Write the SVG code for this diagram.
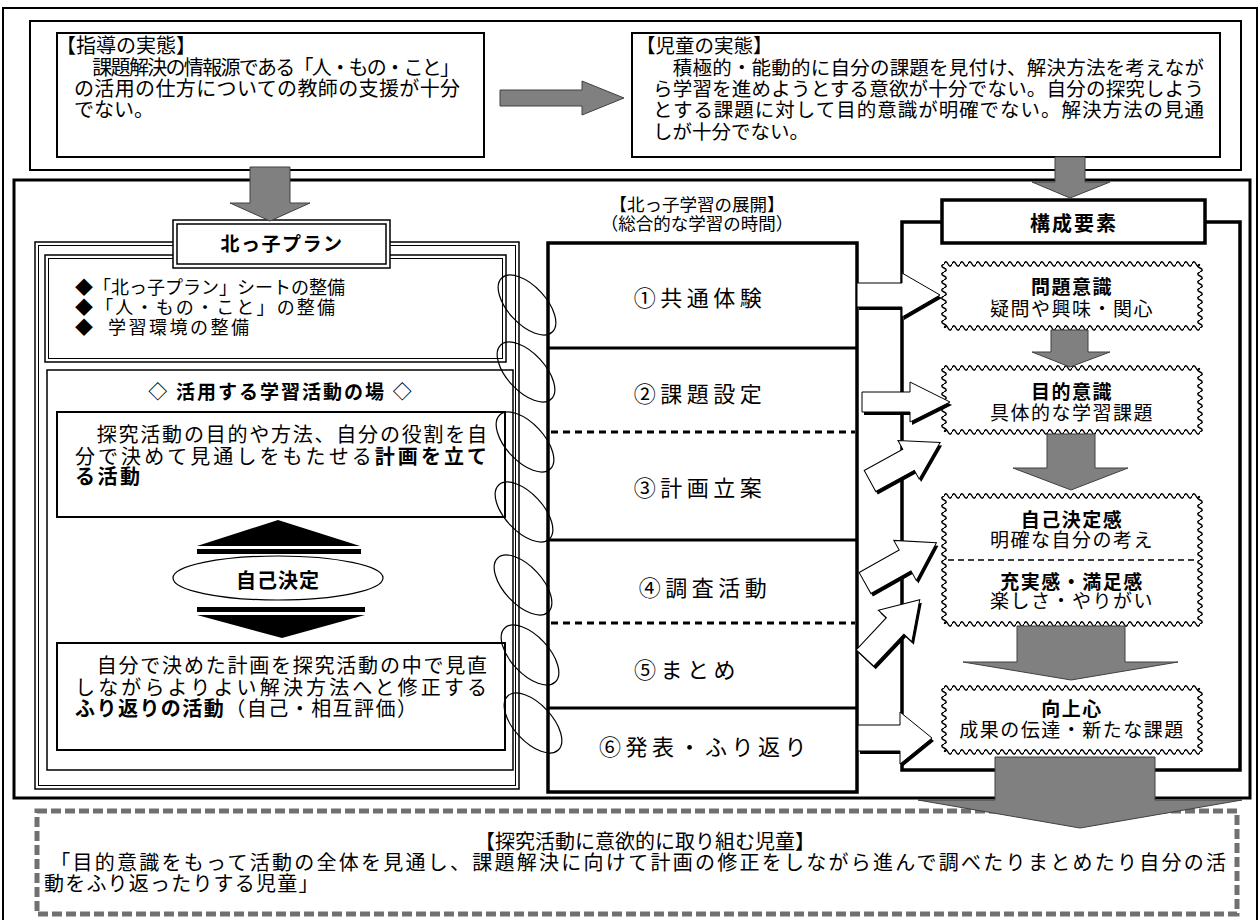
<svg xmlns="http://www.w3.org/2000/svg" width="1260" height="920" viewBox="0 0 1260 920">
<defs>
<style>
text{font-family:"Liberation Serif","Noto Sans CJK JP","Noto Sans CJK SC",serif;fill:#000}
.b{font-weight:bold}
.fr{fill:none;stroke:#000}
.wb{fill:#fff;stroke:#000}
.gray{fill:#808080;stroke:#404040;stroke-width:1}
.wa{fill:#fff;stroke:#000;stroke-width:1}
.ws{fill:#000}
.ell{fill:none;stroke:#000;stroke-width:1.2}
.lbl{font-size:22px;letter-spacing:4.5px}
.hd{font-size:19px;font-weight:bold;letter-spacing:1.5px}
.sb{font-size:19px;letter-spacing:1.5px}
</style>
<pattern id="wh" x="0" y="-4" width="8" height="8" patternUnits="userSpaceOnUse"><path d="M0,4 Q2,-0.5 4,4 T8,4" fill="none" stroke="#000" stroke-width="1.4"/></pattern>
<pattern id="wv" x="-4" y="0" width="8" height="8" patternUnits="userSpaceOnUse"><path d="M4,0 Q-0.5,2 4,4 T4,8" fill="none" stroke="#000" stroke-width="1.4"/></pattern>
</defs>
<rect width="1260" height="920" fill="#fff"/>

<g id="containers">
<rect class="fr" x="3" y="8" width="1254" height="930" stroke-width="2"/>
<rect class="fr" x="30" y="21" width="1211" height="149" stroke-width="2"/>
<rect class="fr" x="14" y="180" width="1236" height="618" stroke-width="3"/>
</g>

<g id="shidou">
<rect class="wb" x="57" y="33" width="427" height="124" stroke-width="2"/>
<text x="56" y="53" font-size="20">【指導の実態】</text>
<text x="74" y="75" font-size="20" textLength="386" lengthAdjust="spacing">　課題解決の情報源である「人・もの・こと」</text>
<text x="74" y="96" font-size="20" textLength="386" lengthAdjust="spacing">の活用の仕方についての教師の支援が十分</text>
<text x="74" y="117" font-size="20">でない。</text>
</g>

<g id="jidou">
<rect class="wb" x="632" y="33" width="588" height="124" stroke-width="2"/>
<text x="636" y="53" font-size="19.5">【児童の実態】</text>
<text x="653" y="75" font-size="19.5" textLength="551" lengthAdjust="spacing">　積極的・能動的に自分の課題を見付け、解決方法を考えなが</text>
<text x="653" y="96" font-size="19.5" textLength="551" lengthAdjust="spacing">ら学習を進めようとする意欲が十分でない。自分の探究しよう</text>
<text x="653" y="117" font-size="19.5" textLength="551" lengthAdjust="spacing">とする課題に対して目的意識が明確でない。解決方法の見通</text>
<text x="653" y="139" font-size="19.5">しが十分でない。</text>
</g>

<g id="kitakko-plan">
<rect x="35" y="242" width="484" height="547" fill="#fff" stroke="#000" stroke-width="1.5"/>
<rect class="fr" x="38.5" y="245.5" width="477" height="540" stroke-width="1"/>
<rect class="wb" x="45" y="255" width="461" height="107" stroke-width="1.5"/>
<rect class="fr" x="48.5" y="258.5" width="454" height="100" stroke-width="1"/>
<text x="75" y="294" font-size="18" textLength="270" lengthAdjust="spacing">◆「北っ子プラン」シートの整備</text>
<text x="75" y="314" font-size="18" textLength="260" lengthAdjust="spacing">◆「人・もの・こと」の整備</text>
<text x="75" y="334" font-size="18">◆<tspan x="108" letter-spacing="2.5">学習環境の整備</tspan></text>
<rect class="wb" x="47" y="370" width="466" height="400" stroke-width="1.5"/>
<text x="281" y="399" text-anchor="middle" class="b" font-size="19" letter-spacing="2">◇ 活用する学習活動の場 ◇</text>
<rect class="wb" x="57" y="412" width="448" height="105" stroke-width="2"/>
<text x="75" y="442" font-size="20" textLength="412" lengthAdjust="spacing">　探究活動の目的や方法、自分の役割を自</text>
<text x="75" y="464" font-size="20" textLength="412" lengthAdjust="spacing">分で決めて見通しをもたせる<tspan class="b">計画を立て</tspan></text>
<text x="75" y="484" font-size="20" class="b" letter-spacing="2.5">る活動</text>
<polygon points="278,520 360,546 197,546" fill="#000"/>
<rect x="197" y="549" width="164" height="5" fill="#000"/>
<ellipse cx="278" cy="578" rx="105" ry="22" fill="#fff" stroke="#000" stroke-width="1.2"/>
<text x="278" y="588" text-anchor="middle" class="b" font-size="20" letter-spacing="1">自己決定</text>
<rect x="197" y="607" width="168" height="5" fill="#000"/>
<polygon points="197,615 365,615 282,638" fill="#000"/>
<rect class="wb" x="57" y="643" width="448" height="107" stroke-width="2"/>
<text x="75" y="673" font-size="20" textLength="412" lengthAdjust="spacing">　自分で決めた計画を探究活動の中で見直</text>
<text x="75" y="695" font-size="20" textLength="412" lengthAdjust="spacing">しながらよりよい解決方法へと修正する</text>
<text x="75" y="716" font-size="20" textLength="342" lengthAdjust="spacing"><tspan class="b">ふり返りの活動</tspan>（自己・相互評価）</text>
<rect class="wb" x="173" y="220" width="217" height="48" stroke-width="1.5"/>
<rect class="fr" x="177" y="224" width="209" height="40" stroke-width="1.5"/>
<text x="282" y="251" text-anchor="middle" class="b" font-size="19" letter-spacing="1.5">北っ子プラン</text>
</g>

<g id="tenkai">
<text x="697" y="211" text-anchor="middle" font-size="17.5">【北っ子学習の展開】</text>
<text x="697" y="230" text-anchor="middle" font-size="17.5">（総合的な学習の時間）</text>
<rect class="wb" x="548" y="243" width="309" height="549" stroke-width="3.5"/>
<line x1="548" y1="348" x2="857" y2="348" stroke="#000" stroke-width="3"/>
<line x1="551" y1="432" x2="855" y2="432" stroke="#000" stroke-width="3" stroke-dasharray="7 5"/>
<line x1="548" y1="540" x2="857" y2="540" stroke="#000" stroke-width="3"/>
<line x1="551" y1="623" x2="855" y2="623" stroke="#000" stroke-width="3" stroke-dasharray="7 5"/>
<line x1="548" y1="708" x2="857" y2="708" stroke="#000" stroke-width="3"/>
<text x="700" y="306" text-anchor="middle" class="lbl">①共通体験</text>
<text x="700" y="402" text-anchor="middle" class="lbl">②課題設定</text>
<text x="700" y="496" text-anchor="middle" class="lbl">③計画立案</text>
<text x="705" y="596" text-anchor="middle" class="lbl">④調査活動</text>
<text x="634" y="678" class="lbl">⑤まとめ</text>
<text x="705" y="755" text-anchor="middle" class="lbl">⑥発表・ふり返り</text>
</g>

<g id="kousei">
<rect class="fr" x="902" y="222" width="338" height="548" stroke-width="3.5"/>
<rect class="wb" x="942" y="200" width="263" height="43" stroke-width="3.5"/>
<text x="1074" y="231" text-anchor="middle" class="b" font-size="20" letter-spacing="2">構成要素</text>
</g>

<g id="mondai">
<rect x="944" y="264" width="256" height="64" fill="#fff"/>
<rect x="944" y="260" width="256" height="8" fill="url(#wh)"/>
<rect x="944" y="324" width="256" height="8" fill="url(#wh)"/>
<rect x="940" y="264" width="8" height="64" fill="url(#wv)"/>
<rect x="1196" y="264" width="8" height="64" fill="url(#wv)"/>
<text x="1072" y="294" text-anchor="middle" class="hd">問題意識</text>
<text x="1072" y="316" text-anchor="middle" class="sb">疑問や興味・関心</text>
</g>

<g id="mokuteki">
<rect x="944" y="368" width="256" height="64" fill="#fff"/>
<rect x="944" y="364" width="256" height="8" fill="url(#wh)"/>
<rect x="944" y="428" width="256" height="8" fill="url(#wh)"/>
<rect x="940" y="368" width="8" height="64" fill="url(#wv)"/>
<rect x="1196" y="368" width="8" height="64" fill="url(#wv)"/>
<text x="1072" y="399" text-anchor="middle" class="hd">目的意識</text>
<text x="1072" y="420" text-anchor="middle" class="sb">具体的な学習課題</text>
</g>

<g id="jiko">
<rect x="944" y="496" width="256" height="128" fill="#fff"/>
<rect x="944" y="492" width="256" height="8" fill="url(#wh)"/>
<rect x="944" y="620" width="256" height="8" fill="url(#wh)"/>
<rect x="940" y="496" width="8" height="128" fill="url(#wv)"/>
<rect x="1196" y="496" width="8" height="128" fill="url(#wv)"/>
<text x="1072" y="527" text-anchor="middle" class="hd">自己決定感</text>
<text x="1072" y="547" text-anchor="middle" class="sb">明確な自分の考え</text>
<line x1="948" y1="560" x2="1194" y2="560" stroke="#000" stroke-width="1.5" stroke-dasharray="6 4"/>
<text x="1072" y="589" text-anchor="middle" class="hd">充実感・満足感</text>
<text x="1072" y="608" text-anchor="middle" class="sb">楽しさ・やりがい</text>
</g>

<g id="koujou">
<rect x="944" y="688" width="256" height="64" fill="#fff"/>
<rect x="944" y="684" width="256" height="8" fill="url(#wh)"/>
<rect x="944" y="748" width="256" height="8" fill="url(#wh)"/>
<rect x="940" y="688" width="8" height="64" fill="url(#wv)"/>
<rect x="1196" y="688" width="8" height="64" fill="url(#wv)"/>
<text x="1072" y="716" text-anchor="middle" class="hd">向上心</text>
<text x="1072" y="737" text-anchor="middle" class="sb">成果の伝達・新たな課題</text>
</g>

<g id="goal">
<rect x="37" y="811" width="1200" height="103" fill="#fff" stroke="#707070" stroke-width="5" stroke-dasharray="10 4"/>
<text x="645" y="849" text-anchor="middle" font-size="20">【探究活動に意欲的に取り組む児童】</text>
<text x="38" y="870" font-size="20" textLength="1188" lengthAdjust="spacing">　「目的意識をもって活動の全体を見通し、課題解決に向けて計画の修正をしながら進んで調べたりまとめたり自分の活</text>
<text x="44" y="891" font-size="20" letter-spacing="1.2">動をふり返ったりする児童」</text>
</g>

<g id="connectors">
<polygon class="gray" points="500,90 582,90 582,81 624,98 582,115 582,106 500,106"/>
<polygon class="gray" points="250,167 290,167 290,203 310,203 270,221 230,203 250,203"/>
<polygon class="gray" points="1055,157 1085,157 1085,182 1110,182 1070,198 1032,182 1055,182"/>
<polygon class="gray" points="1051,330 1088,330 1088,352 1110,352 1070,367 1032,352 1051,352"/>
<polygon class="gray" points="1047,434 1095,434 1095,468 1128,468 1071,490 1013,468 1047,468"/>
<polygon class="gray" points="1017,626 1125,626 1125,662 1178,662 1071,680 963,662 1017,662"/>
<polygon class="gray" points="995,757 1155,757 1155,800 1242,800 1080,828 918,800 995,800"/>

<polygon class="ws" transform="translate(2,3)" points="857,283 902,283 902,273 940,295 902,317 902,307 857,307"/>
<polygon class="wa" points="857,283 902,283 902,273 940,295 902,317 902,307 857,307"/>
<polygon class="ws" transform="translate(2,3)" points="862,392 910,392 910,382 950,402 910,422 910,412 862,412"/>
<polygon class="wa" points="862,392 910,392 910,382 950,402 910,422 910,412 862,412"/>
<g transform="translate(872,484) rotate(-28.8)"><polygon class="ws" points="0,-12 44,-12 44,-22 80,0 44,22 44,12 0,12"/></g>
<g transform="translate(870,481) rotate(-28.8)"><polygon class="wa" points="0,-12 44,-12 44,-22 80,0 44,22 44,12 0,12"/></g>
<g transform="translate(867,586) rotate(-29.4)"><polygon class="ws" points="0,-12 46,-12 46,-23 82,0 46,23 46,12 0,12"/></g>
<g transform="translate(865,583) rotate(-29.4)"><polygon class="wa" points="0,-12 46,-12 46,-23 82,0 46,23 46,12 0,12"/></g>
<g transform="translate(867,661) rotate(-46.8)"><polygon class="ws" points="0,-12 44,-12 44,-23 80,0 44,23 44,12 0,12"/></g>
<g transform="translate(865,658) rotate(-46.8)"><polygon class="wa" points="0,-12 44,-12 44,-23 80,0 44,23 44,12 0,12"/></g>
<polygon class="ws" transform="translate(2,3)" points="858,725 900,725 900,712 932,738 900,764 900,751 858,751"/>
<polygon class="wa" points="858,725 900,725 900,712 932,738 900,764 900,751 858,751"/>

<ellipse class="ell" cx="527" cy="305" rx="37" ry="19" transform="rotate(47 527 305)"/>
<ellipse class="ell" cx="526" cy="372" rx="37" ry="19" transform="rotate(47 526 372)"/>
<ellipse class="ell" cx="525" cy="442" rx="37" ry="19" transform="rotate(47 525 442)"/>
<ellipse class="ell" cx="524" cy="512" rx="37" ry="19" transform="rotate(47 524 512)"/>
<ellipse class="ell" cx="523" cy="585" rx="37" ry="19" transform="rotate(47 523 585)"/>
<ellipse class="ell" cx="530" cy="655" rx="37" ry="19" transform="rotate(47 530 655)"/>
<ellipse class="ell" cx="533" cy="723" rx="37" ry="19" transform="rotate(47 533 723)"/>
</g>
</svg>
